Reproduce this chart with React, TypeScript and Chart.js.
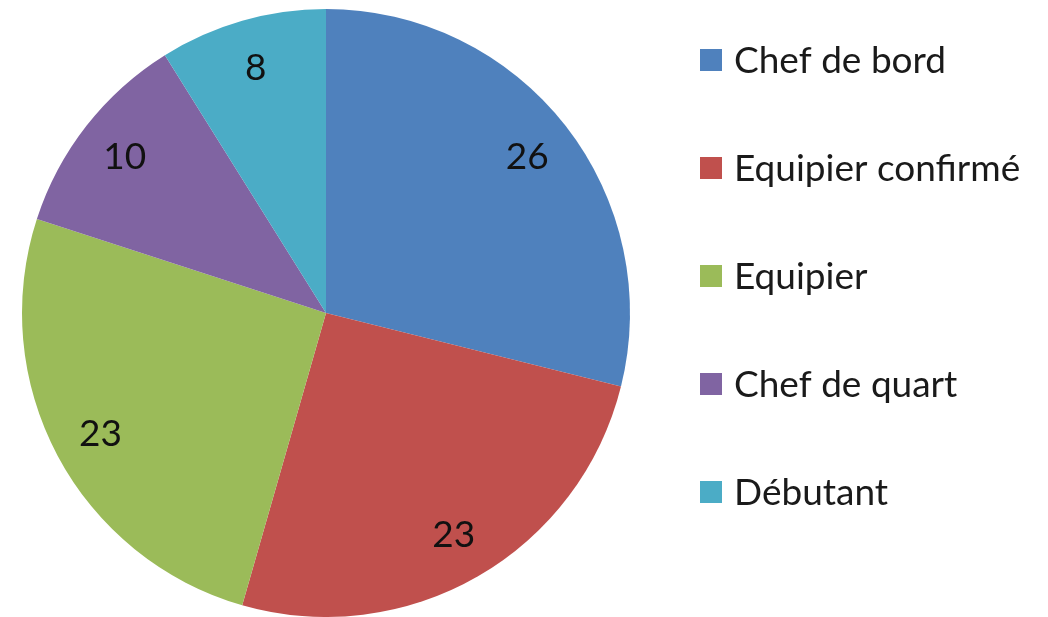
import React, { useEffect, useRef } from "react";
import { Chart, registerables } from "chart.js";

Chart.register(...registerables);

const categories = ["Chef de bord", "Equipier confirmé", "Equipier", "Chef de quart", "Débutant"];
const values = [26, 23, 23, 10, 8];
const colors = ["#4F81BD", "#C0504D", "#9BBB59", "#8064A2", "#4BACC6"];

const FONT = "Lato, 'Liberation Sans', sans-serif";

const labelPlugin = {
  id: "sliceLabels",
  afterDatasetsDraw(chart: any) {
    const { ctx } = chart;
    const meta = chart.getDatasetMeta(0);
    ctx.save();
    ctx.font = `37px ${FONT}`;
    ctx.fillStyle = "#111";
    ctx.textAlign = "center";
    ctx.textBaseline = "middle";
    meta.data.forEach((arc: any, i: number) => {
      const { x, y, startAngle, endAngle, outerRadius } = arc.getProps(
        ["x", "y", "startAngle", "endAngle", "outerRadius"],
        true
      );
      const mid = (startAngle + endAngle) / 2;
      const r = outerRadius * 0.84;
      ctx.fillText(String(values[i]), x + Math.cos(mid) * r, y + Math.sin(mid) * r + 1);
    });
    ctx.restore();
  },
};

const legendPlugin = {
  id: "sideLegend",
  afterDraw(chart: any) {
    const { ctx } = chart;
    ctx.save();
    ctx.font = `37px ${FONT}`;
    ctx.textBaseline = "middle";
    ctx.textAlign = "left";
    categories.forEach((label, i) => {
      const cy = 60 + i * 108;
      ctx.fillStyle = colors[i];
      ctx.fillRect(700, cy - 11, 22, 22);
      ctx.fillStyle = "#1a1a1a";
      ctx.fillText(label, 734, cy + 1);
    });
    ctx.restore();
  },
};

export default function App() {
  const ref = useRef<HTMLCanvasElement>(null);
  useEffect(() => {
    document.body.style.margin = "0";
    const chart = new Chart(ref.current as HTMLCanvasElement, {
      type: "pie",
      data: {
        labels: categories,
        datasets: [
          {
            data: values,
            backgroundColor: colors,
            borderWidth: 0,
          },
        ],
      },
      options: {
        responsive: false,
        animation: false,
        layout: { padding: { left: 22, right: 418, top: 9, bottom: 0 } },
        plugins: {
          legend: { display: false },
          tooltip: { enabled: false },
        },
      },
      plugins: [labelPlugin, legendPlugin],
    });
    return () => chart.destroy();
  }, []);
  return (
    <div style={{ width: 1048, height: 617, background: "#fff" }}>
      <canvas ref={ref} width={1048} height={617} />
    </div>
  );
}
